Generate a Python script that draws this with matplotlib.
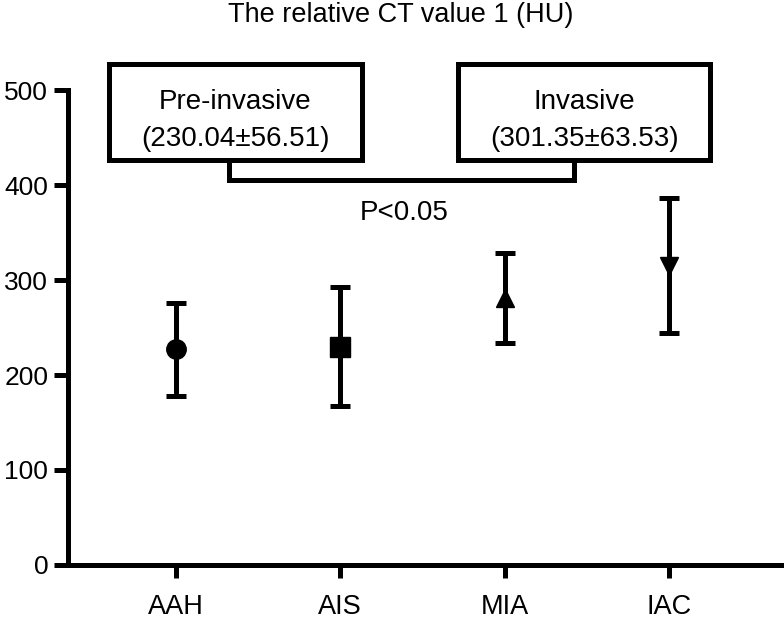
import matplotlib.pyplot as plt
from matplotlib.patches import Rectangle

groups = ["AAH", "AIS", "MIA", "IAC"]
means = [227, 230, 281, 315]
sds = [49, 63, 47, 71]
markers = ["o", "s", "^", "v"]
marker_sizes = [14, 14, 13, 13]

group_labels = ["Pre-invasive\n(230.04±56.51)", "Invasive\n(301.35±63.53)"]
title = "The relative CT value 1 (HU)"
p_text = "P<0.05"

plt.rcParams["font.family"] = ["Liberation Sans", "DejaVu Sans"]

fig = plt.figure(figsize=(7.84, 6.24), dpi=100)
ax = fig.add_axes([0.0864, 0.0946, 0.9136, 0.761])

lw = 3.6
x = list(range(len(groups)))
for xi, m, s, mk, ms in zip(x, means, sds, markers, marker_sizes):
    ax.errorbar(xi, m, yerr=s, fmt=mk, color="black", ms=ms, elinewidth=lw,
                capsize=7, capthick=lw, clip_on=False)

ax.set_xlim(-0.657, 3.70)
ax.set_ylim(0, 500)
ax.set_xticks(x)
ax.set_xticklabels(groups, fontsize=19.5)
ax.set_yticks([0, 100, 200, 300, 400, 500])
ax.tick_params(axis="y", labelsize=19, width=lw, length=10, direction="out", pad=4)
ax.tick_params(axis="x", width=lw, length=9, direction="out", pad=12)
for side in ["top", "right"]:
    ax.spines[side].set_visible(False)
ax.spines["left"].set_linewidth(lw)
ax.spines["bottom"].set_linewidth(lw)
ax.spines["left"].set_bounds(0, 500)

# group boxes
boxes = [(-0.406, 1.13), (1.718, 3.25)]
for (x0, x1), lab in zip(boxes, group_labels):
    ax.add_patch(Rectangle((x0, 426), x1 - x0, 101, fill=False, lw=lw,
                           ec="black", clip_on=False, joinstyle="miter"))
    ax.text((x0 + x1) / 2, 468, lab, ha="center", va="center", fontsize=20,
            linespacing=1.55, clip_on=False)

# significance bracket
ax.plot([0.321, 0.321, 2.424, 2.424], [426, 405, 405, 426], color="black", lw=lw,
        clip_on=False, solid_joinstyle="miter")
ax.text(1.39, 371, p_text, ha="center", va="center", fontsize=20)

fig.text(401 / 784, 1 - 15 / 624, title, ha="center", va="center", fontsize=19.5)

fig.savefig("out.png", dpi=100)
